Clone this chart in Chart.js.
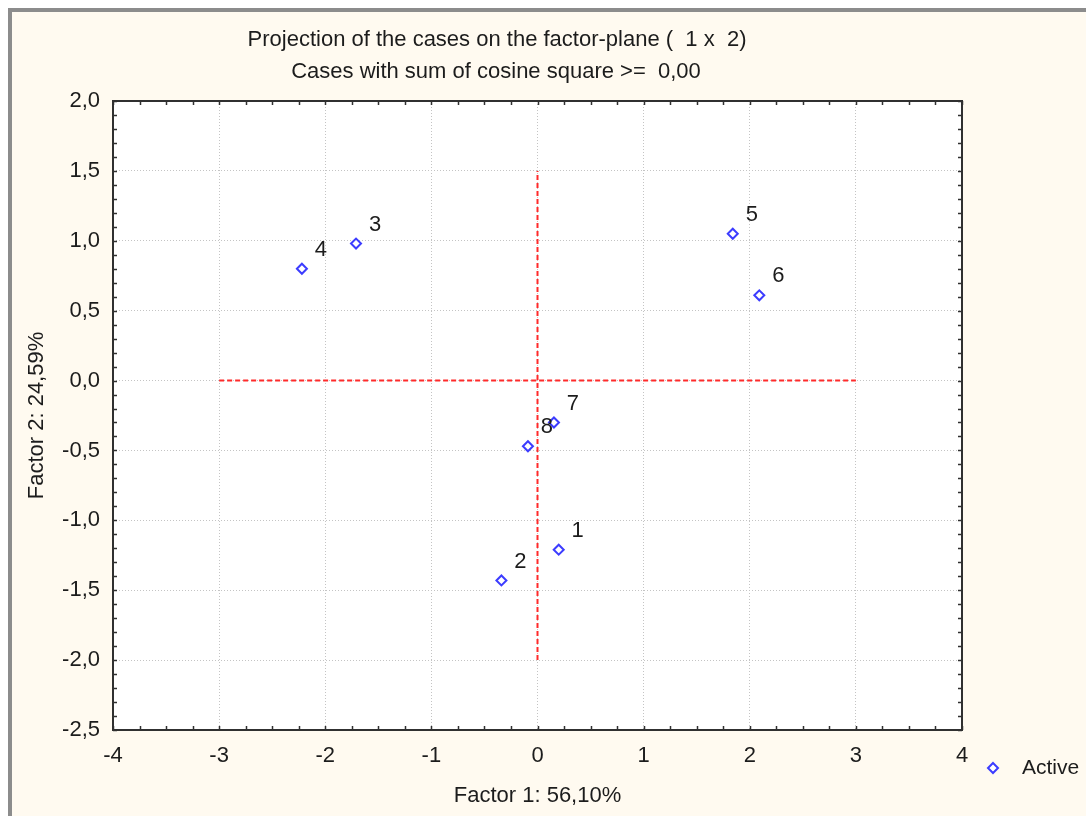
<!DOCTYPE html>
<html>
<head>
<meta charset="utf-8">
<script src="https://cdn.jsdelivr.net/npm/chart.js@4/dist/chart.umd.min.js"></script>
<style>
  html, body { margin: 0; padding: 0; background: #ffffff; }
  #wrap { position: absolute; left: 0; top: 0; width: 1086px; height: 816px; }
</style>
</head>
<body>
<div id="wrap"><canvas id="c" width="1086" height="816"></canvas></div>
<script>
// ---- data ----
const caseLabels = ['1', '2', '3', '4', '5', '6', '7', '8'];
const factor1 = [0.20, -0.34, -1.71, -2.22, 1.84, 2.09, 0.155, -0.09];
const factor2 = [-1.21, -1.43, 0.98, 0.80, 1.05, 0.61, -0.30, -0.47];
const hRefX = [-3, 3];
const hRefY = [0, 0];
const vRefX = [0, 0];
const vRefY = [-2, 1.5];
const xTicks = [-4, -3, -2, -1, 0, 1, 2, 3, 4];
const yTicks = [-2.5, -2.0, -1.5, -1.0, -0.5, 0.0, 0.5, 1.0, 1.5, 2.0];
const titleLines = ['Projection of the cases on the factor-plane (  1 x  2)', 'Cases with sum of cosine square >=  0,00'];
const xTitle = 'Factor 1: 56,10%';
const yTitle = 'Factor 2: 24,59%';
const seriesName = 'Active';
const xMinorStep = 0.25;
const yMinorStep = 0.1;

const FONT = '"Liberation Sans", Arial, sans-serif';
const TXT = '#1c1c1c';
const FS = 22;

const fmtY = v => v.toFixed(1).replace('.', ',');

const framePlugin = {
  id: 'frame',
  beforeDraw(chart) {
    const ctx = chart.ctx, a = chart.chartArea;
    ctx.save();
    ctx.fillStyle = '#ffffff';
    ctx.fillRect(0, 0, chart.width, chart.height);
    ctx.fillStyle = '#fffaf0';
    ctx.fillRect(8, 8, chart.width - 8, chart.height - 8);
    ctx.fillStyle = '#8c8c8c';
    ctx.fillRect(8, 8, 4, chart.height - 8);
    ctx.fillRect(8, 8, chart.width - 8, 4);
    ctx.fillStyle = '#ffffff';
    ctx.fillRect(a.left, a.top, a.right - a.left, a.bottom - a.top);
    ctx.restore();
  },
  afterDraw(chart) {
    const ctx = chart.ctx, a = chart.chartArea;
    const xs = chart.scales.x, ys = chart.scales.y;
    ctx.save();
    // frame
    ctx.strokeStyle = '#303030';
    ctx.lineWidth = 2;
    ctx.strokeRect(a.left, a.top, a.right - a.left, a.bottom - a.top);
    // tick marks (inward) on all four sides
    ctx.lineWidth = 1.5;
    ctx.beginPath();
    const n = Math.round((xs.max - xs.min) / xMinorStep);
    for (let i = 0; i <= n; i++) {
      const px = Math.round(xs.getPixelForValue(xs.min + i * xMinorStep)) + 0.5;
      ctx.moveTo(px, a.bottom); ctx.lineTo(px, a.bottom - 4);
      ctx.moveTo(px, a.top); ctx.lineTo(px, a.top + 4);
    }
    const m = Math.round((ys.max - ys.min) / yMinorStep);
    for (let i = 0; i <= m; i++) {
      const py = Math.round(ys.getPixelForValue(ys.min + i * yMinorStep)) + 0.5;
      ctx.moveTo(a.left, py); ctx.lineTo(a.left + 4, py);
      ctx.moveTo(a.right, py); ctx.lineTo(a.right - 4, py);
    }
    ctx.stroke();

    // point labels
    ctx.fillStyle = TXT;
    ctx.font = FS + 'px ' + FONT;
    ctx.textAlign = 'center';
    ctx.textBaseline = 'middle';
    const meta = chart.getDatasetMeta(0);
    meta.data.forEach((el, i) => {
      ctx.fillText(caseLabels[i], el.x + 19, el.y - 19);
    });

    // title lines
    ctx.fillText(titleLines[0], 497, 40);
    ctx.fillText(titleLines[1], 496, 72);

    // legend
    const ds = chart.data.datasets[0];
    const lx = 993, ly = 768, r = 5;
    ctx.beginPath();
    ctx.moveTo(lx, ly - r); ctx.lineTo(lx + r, ly); ctx.lineTo(lx, ly + r); ctx.lineTo(lx - r, ly); ctx.closePath();
    ctx.fillStyle = '#ffffff';
    ctx.fill();
    ctx.strokeStyle = ds.borderColor;
    ctx.lineWidth = ds.borderWidth;
    ctx.stroke();
    ctx.fillStyle = TXT;
    ctx.textAlign = 'left';
    ctx.font = '21px ' + FONT;
    ctx.fillText(ds.label, 1022, ly);
    ctx.restore();
  }
};

new Chart(document.getElementById('c'), {
  type: 'scatter',
  data: {
    datasets: [
      {
        label: seriesName,
        data: factor1.map((x, i) => ({ x: x, y: factor2[i] })),
        pointStyle: 'rectRot',
        pointRadius: 5,
        pointHoverRadius: 5,
        borderColor: '#3c3cff',
        backgroundColor: '#ffffff',
        borderWidth: 2,
        order: 0
      },
      {
        label: 'h',
        type: 'line',
        data: hRefX.map((x, i) => ({ x: x, y: hRefY[i] })),
        borderColor: '#ff2a2a',
        borderWidth: 2,
        borderDash: [5, 3],
        pointRadius: 0,
        fill: false,
        order: 1
      },
      {
        label: 'v',
        type: 'line',
        data: vRefX.map((x, i) => ({ x: x, y: vRefY[i] })),
        borderColor: '#ff2a2a',
        borderWidth: 2,
        borderDash: [5, 3],
        pointRadius: 0,
        fill: false,
        order: 1
      }
    ]
  },
  options: {
    responsive: false,
    animation: false,
    events: [],
    layout: { padding: { top: 101, left: 0, right: 124, bottom: 0 } },
    plugins: {
      legend: { display: false },
      title: { display: false },
      tooltip: { enabled: false }
    },
    scales: {
      x: {
        type: 'linear',
        min: -4, max: 4,
        afterFit(s) { s.height = 86; },
        afterBuildTicks(s) { s.ticks = xTicks.map(v => ({ value: v })); },
        ticks: {
          autoSkip: false, maxRotation: 0, padding: 13,
          color: TXT, font: { family: FONT, size: FS },
          callback: v => String(v)
        },
        grid: { drawTicks: false, color: '#c4c4c4', lineWidth: 1 },
        border: { display: false, dash: [1, 2] },
        title: { display: true, text: xTitle, color: TXT, font: { family: FONT, size: FS }, padding: { top: 0, bottom: 7 } }
      },
      y: {
        type: 'linear',
        min: -2.5, max: 2.0,
        afterFit(s) { s.width = 113; },
        afterBuildTicks(s) { s.ticks = yTicks.map(v => ({ value: v })); },
        ticks: {
          autoSkip: false, padding: 13,
          color: TXT, font: { family: FONT, size: FS },
          callback: v => fmtY(v)
        },
        grid: { drawTicks: false, color: '#c4c4c4', lineWidth: 1 },
        border: { display: false, dash: [1, 2] },
        title: { display: true, text: yTitle, color: TXT, font: { family: FONT, size: FS }, padding: { top: 24, bottom: 0 } }
      }
    }
  },
  plugins: [framePlugin]
});
</script>
</body>
</html>
